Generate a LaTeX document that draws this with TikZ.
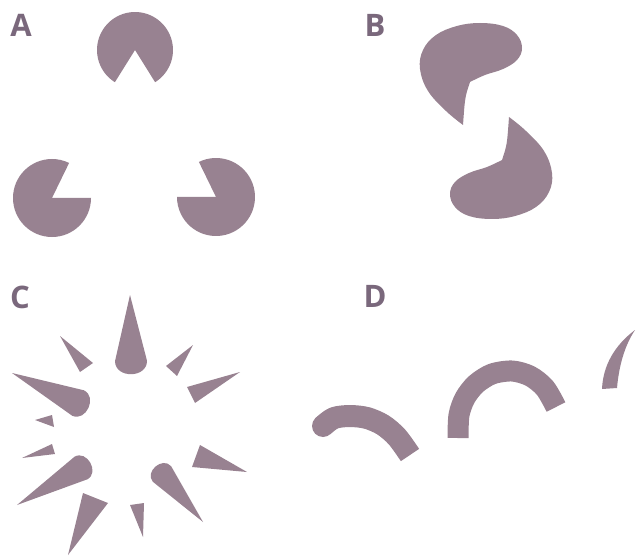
\documentclass[tikz,border=0pt]{standalone}
\usepackage{fontspec}
\setmainfont{Open Sans}
\usetikzlibrary{calc}
\definecolor{shp}{RGB}{152,130,145}
\definecolor{lbltxt}{RGB}{122,104,124}
% tapered spike with a rounded base: tip, base centre, half width
\newcommand\rspike[3]{%
  \fill[blob] let \p1=(#1), \p2=(#2), \n1={atan2(\y2-\y1,\x2-\x1)} in
    (\p1) -- ($(\p2)+(\n1+90:#3)$)
    .. controls ($(\p2)+(\n1+90:#3)+(\n1:1.1*#3)$) and ($(\p2)+(\n1-90:#3)+(\n1:1.1*#3)$) ..
    ($(\p2)+(\n1-90:#3)$) -- cycle;}
\begin{document}
\begin{tikzpicture}[x=1pt,y=-1pt,
  blob/.style={fill=shp},
  band/.style={draw=shp, line cap=butt, line join=round},
  panellabel/.style={text=lbltxt, font=\fontsize{31}{31}\selectfont\bfseries, inner sep=0pt, anchor=center}]
\path[use as bounding box] (0,0) rectangle (637,556);

% labels
\node[panellabel] (la) at (21,25) {A};
\node[panellabel] (lb) at (375,25) {B};
\node[panellabel] (lc) at (20,297) {C};
\node[panellabel] (ld) at (375,296) {D};

% ---- A : Kanizsa triangle
\fill[blob] (135,50) -- ++(122:38) arc[start angle=122, end angle=418, radius=38] -- cycle;
\fill[blob] (52,198) -- ++(0:39) arc[start angle=0, end angle=296, radius=39] -- cycle;
\fill[blob] (216,197) -- ++(244:39) arc[start angle=244, end angle=540, radius=39] -- cycle;

% ---- B : two hooked blobs
\def\hook{plot[smooth, tension=0.65] coordinates {(463,125) (446,111) (428,91) (420,69) (423,50) (436,35) (457,26) (480,23) (503,26) (517,35) (522,48) (517,60) (503,69) (485,75) (470,82)} .. controls (465,97) .. (463,125) -- cycle}
\fill[blob] \hook;
\fill[blob, rotate around={180:(486,121)}] \hook;

% ---- C : starburst
\rspike{130,295}{131,361}{16pt}
\fill[blob] (60,336) -- (80,372) -- (93,363) -- cycle;
\fill[blob] (193,345) -- (166,366) -- (177,376) -- cycle;
\fill[blob] (240,372) -- (187,387) -- (195,403) -- cycle;
\rspike{12,373}{78,403}{14pt}
\fill[blob] (35,420) -- (52,415) -- (54,427) -- cycle;
\fill[blob] (22,458) -- (52,444) -- (55,454) -- cycle;
\rspike{17,505}{81,468}{13pt}
\fill[blob] (68,555) -- (83,493) -- (108,503) -- cycle;
\fill[blob] (143,537) -- (130,505) -- (144,503) -- cycle;
\rspike{203,522}{162,474}{12pt}
\fill[blob] (247,472) -- (192,467) -- (200,445) -- cycle;

% ---- D : arcs
\draw[band, line width=22pt] plot[smooth] coordinates {(323,426) (334,418) (350,416) (367,418) (383,425) (397,437) (410,455)};
\fill[blob] (323,426) circle[radius=11pt];
\draw[band, line width=21pt] plot[smooth] coordinates {(458,438) (459,415) (465,398) (476,384) (492,374) (512,371) (530,376) (545,388) (556,407)};
\fill[blob] (635,330) .. controls (615,345) and (603,365) .. (602,389) -- (617,388) .. controls (619,365) and (625,345) .. (635,330) -- cycle;
\end{tikzpicture}
\end{document}
